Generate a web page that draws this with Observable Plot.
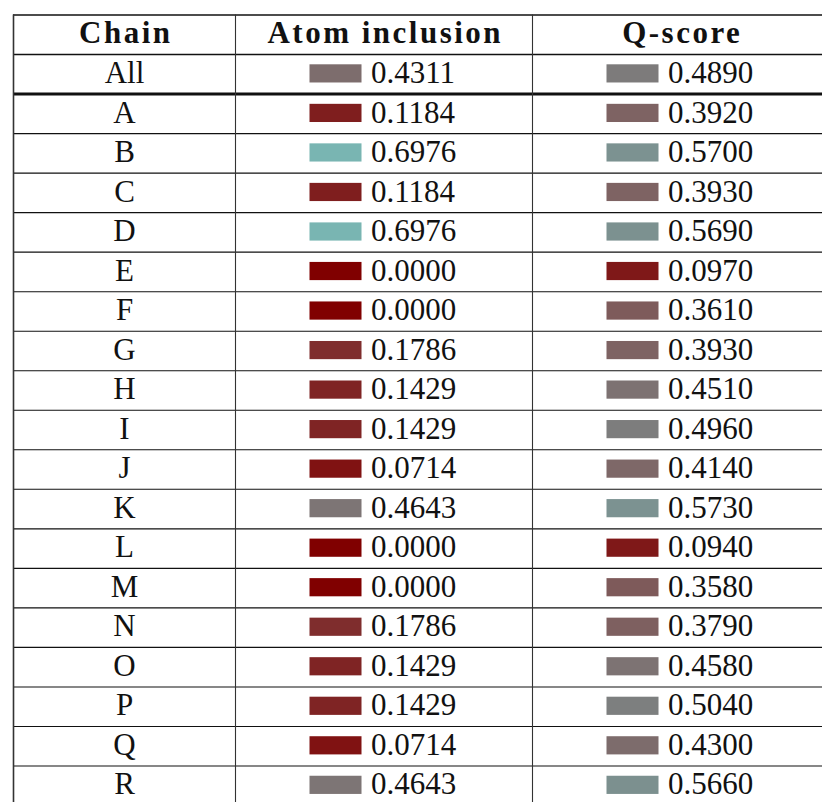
<!DOCTYPE html>
<html><head><meta charset="utf-8">
<script src="https://cdn.jsdelivr.net/npm/d3@7"></script>
<script src="https://cdn.jsdelivr.net/npm/@observablehq/plot@0.6"></script>
<style>body{margin:0;background:#fff;overflow:hidden}</style>
</head><body><div id="chart"></div>
<script>
const headers = ["Chain", "Atom inclusion", "Q-score"];
const chains = ["All","A","B","C","D","E","F","G","H","I","J","K","L","M","N","O","P","Q","R"];
const atomInclusion = [0.4311, 0.1184, 0.6976, 0.1184, 0.6976, 0.0000, 0.0000, 0.1786, 0.1429, 0.1429, 0.0714, 0.4643, 0.0000, 0.0000, 0.1786, 0.1429, 0.1429, 0.0714, 0.4643];
const qScore = [0.4890, 0.3920, 0.5700, 0.3930, 0.5690, 0.0970, 0.3610, 0.3930, 0.4510, 0.4960, 0.4140, 0.5730, 0.0940, 0.3580, 0.3790, 0.4580, 0.5040, 0.4300, 0.5660];

// layout (table units = px)
const colWidths = [222, 297, 297];
const colEdges = [0];
colWidths.forEach(w => colEdges.push(colEdges[colEdges.length - 1] + w));
const colCenter = colWidths.map((w, i) => colEdges[i] + w / 2);
const nRows = chains.length + 1;

const rows = chains.map((c, i) => ({row: i + 1, chain: c}));
const cells = [];
chains.forEach((c, i) => {
  cells.push({row: i + 1, col: 1, value: atomInclusion[i]});
  cells.push({row: i + 1, col: 2, value: qScore[i]});
});
const hLines = d3.range(0, nRows + 1).map(r => ({r, w: r === 2 ? 3 : (r <= 1 ? 1.6 : 1.1)}));

const font = "'Liberation Serif', 'Times New Roman', serif";

const chart = Plot.plot({
  width: 822,
  height: 802,
  margin: 0,
  x: {type: "linear", domain: [0, colEdges[3]], range: [13, 13 + colEdges[3]], axis: null},
  y: {type: "linear", domain: [0, nRows], range: [14.5, 805], axis: null},
  color: {type: "linear", domain: [0, 0.5, 0.7], range: ["#800000", "#7d7e7e", "#79b6b3"]},
  style: {fontFamily: font, background: "#fff"},
  marks: [
    Plot.rect(cells, {
      x1: d => colCenter[d.col] - 74, x2: d => colCenter[d.col] - 22,
      y1: d => d.row + 0.26, y2: d => d.row + 0.72,
      fill: d => d.value
    }),
    Plot.text(cells, {
      x: d => colCenter[d.col] - 13, y: d => d.row + 0.47,
      text: d => d.value.toFixed(4), textAnchor: "start",
      fontSize: 31, fill: "#111"
    }),
    Plot.text(rows, {
      x: colCenter[0], y: d => d.row + 0.47, text: "chain",
      fontSize: 31, fill: "#111"
    }),
    Plot.text(headers, {
      x: (d, i) => colCenter[i], y: 0.47, text: d => d,
      fontSize: 31, fontWeight: "bold", fill: "#111"
    }),
    Plot.ruleY(hLines, {y: "r", x1: 0, x2: colEdges[3], strokeWidth: "w", stroke: "#111"}),
    Plot.ruleX(colEdges, {y1: 0, y2: nRows, stroke: "#333", strokeWidth: d => d === 0 ? 1.6 : 1.1})
  ]
});
const textGroups = chart.querySelectorAll('g[aria-label="text"]');
const headerGroup = textGroups[textGroups.length - 1];
headerGroup.querySelectorAll("text").forEach(t => {
  t.setAttribute("letter-spacing", "2.5");
  t.setAttribute("dx", "1.25");
});
document.getElementById("chart").append(chart);
</script>
</body></html>
